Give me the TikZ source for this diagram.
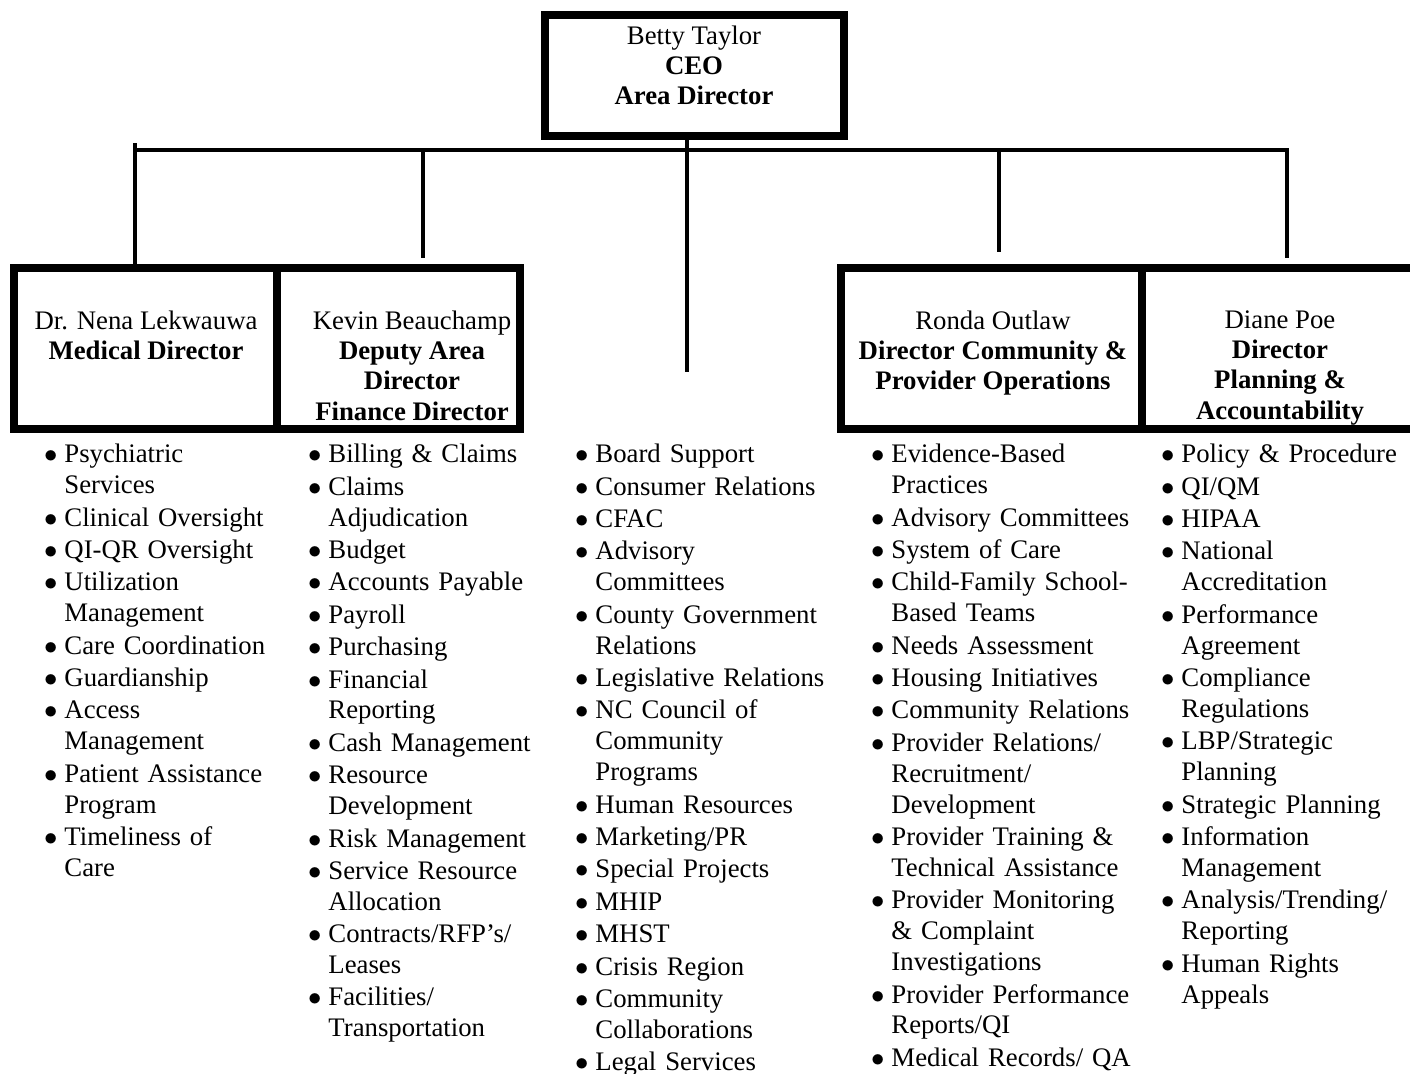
\documentclass[tikz,border=0pt]{standalone}
\usepackage{fontspec}
\setmainfont{Liberation Serif}
\newcommand{\bitem}[1]{\par\noindent\hangindent=8.07pt\hangafter=1\makebox[8.07pt][l]{\hspace{-1pt}$\bullet$}#1\par}
\begin{document}
\begin{tikzpicture}[x=0.4484pt,y=-0.4484pt,
  box/.style={draw, line width=3.6pt, rectangle, inner sep=0pt},
  conn/.style={line width=2pt},
  head/.style={align=center, inner sep=0pt, anchor=north, font=\fontsize{12}{13.6}\selectfont},
  col/.style={anchor=north west, inner sep=0pt, text width=140pt, font=\fontsize{12}{13.86}\selectfont\setlength{\parskip}{0.66pt}}]
\useasboundingbox (0,0) rectangle (1410,1073);

% boxes
\node[box, minimum width=134.07pt, minimum height=54.26pt] (ceo) at (694.5,75.5) {};
\node[box, minimum width=117.93pt, minimum height=72.19pt] (dr) at (145.5,348.5) {};
\node[box, minimum width=108.96pt, minimum height=72.19pt] (kb) at (398.5,348.5) {};
\node[box, minimum width=134.97pt, minimum height=72.19pt] (ro) at (991.5,348.5) {};
\node[box, minimum width=133.62pt, minimum height=72.19pt] (dp) at (1291,348.5) {};

% box texts
\node[head] (ceot) at (694,25) {Betty Taylor\\\textbf{CEO}\\\textbf{Area Director}};
\node[head] (drt) at (146,310) {Dr. Nena Lekwauwa\\\textbf{Medical Director}};
\node[head] (kbt) at (412,310) {Kevin Beauchamp\\\textbf{Deputy Area}\\\textbf{Director}\\\textbf{Finance Director}};
\node[head] (rot) at (993,310) {Ronda Outlaw\\\textbf{Director Community \&}\\\textbf{Provider Operations}};
\node[head] (dpt) at (1280,310) {Diane Poe\\\textbf{Director}\\\textbf{Planning \&}\\\textbf{Accountability}};

% connectors
\coordinate (bL) at (135,150);
\coordinate (bR) at (1287,150);
\coordinate (dTop) at (135,143);
\coordinate (kEnd) at (423,258);
\coordinate (cEnd) at (687,372);
\coordinate (rEnd) at (999,252);
\coordinate (pTop) at (1287,148);
\coordinate (pEnd) at (1287,258);
\draw[conn] (bL) -- (bR);
\draw[conn] (cEnd |- ceo.south) -- (cEnd);
\draw[conn] (dTop) -- (dTop |- dr.north);
\draw[conn] (kEnd |- bL) -- (kEnd);
\draw[conn] (rEnd |- bL) -- (rEnd);
\draw[conn] (pTop) -- (pEnd);

% lists
\node[col] (c1) at (46,430) {%
\bitem{Psychiatric\newline Services}
\bitem{Clinical Oversight}
\bitem{QI-QR Oversight}
\bitem{Utilization\newline Management}
\bitem{Care Coordination}
\bitem{Guardianship}
\bitem{Access\newline Management}
\bitem{Patient Assistance\newline Program}
\bitem{Timeliness of\newline Care}};

\node[col] (c2) at (310,430) {%
\bitem{Billing \& Claims}
\bitem{Claims\newline Adjudication}
\bitem{Budget}
\bitem{Accounts Payable}
\bitem{Payroll}
\bitem{Purchasing}
\bitem{Financial\newline Reporting}
\bitem{Cash Management}
\bitem{Resource\newline Development}
\bitem{Risk Management}
\bitem{Service Resource\newline Allocation}
\bitem{Contracts/RFP’s/\newline Leases}
\bitem{Facilities/\newline Transportation}};

\node[col] (c3) at (577,430) {%
\bitem{Board Support}
\bitem{Consumer Relations}
\bitem{CFAC}
\bitem{Advisory\newline Committees}
\bitem{County Government\newline Relations}
\bitem{Legislative Relations}
\bitem{NC Council of\newline Community\newline Programs}
\bitem{Human Resources}
\bitem{Marketing/PR}
\bitem{Special Projects}
\bitem{MHIP}
\bitem{MHST}
\bitem{Crisis Region}
\bitem{Community\newline Collaborations}
\bitem{Legal Services}};

\node[col] (c4) at (873,430) {%
\bitem{Evidence-Based\newline Practices}
\bitem{Advisory Committees}
\bitem{System of Care}
\bitem{Child-Family School-\newline Based Teams}
\bitem{Needs Assessment}
\bitem{Housing Initiatives}
\bitem{Community Relations}
\bitem{Provider Relations/\newline Recruitment/\newline Development}
\bitem{Provider Training \&\newline Technical Assistance}
\bitem{Provider Monitoring\newline \& Complaint\newline Investigations}
\bitem{Provider Performance\newline Reports/QI}
\bitem{Medical Records/ QA}};

\node[col] (c5) at (1163,430) {%
\bitem{Policy \& Procedure}
\bitem{QI/QM}
\bitem{HIPAA}
\bitem{National\newline Accreditation}
\bitem{Performance\newline Agreement}
\bitem{Compliance\newline Regulations}
\bitem{LBP/Strategic\newline Planning}
\bitem{Strategic Planning}
\bitem{Information\newline Management}
\bitem{Analysis/Trending/\newline Reporting}
\bitem{Human Rights\newline Appeals}};
\end{tikzpicture}
\end{document}
